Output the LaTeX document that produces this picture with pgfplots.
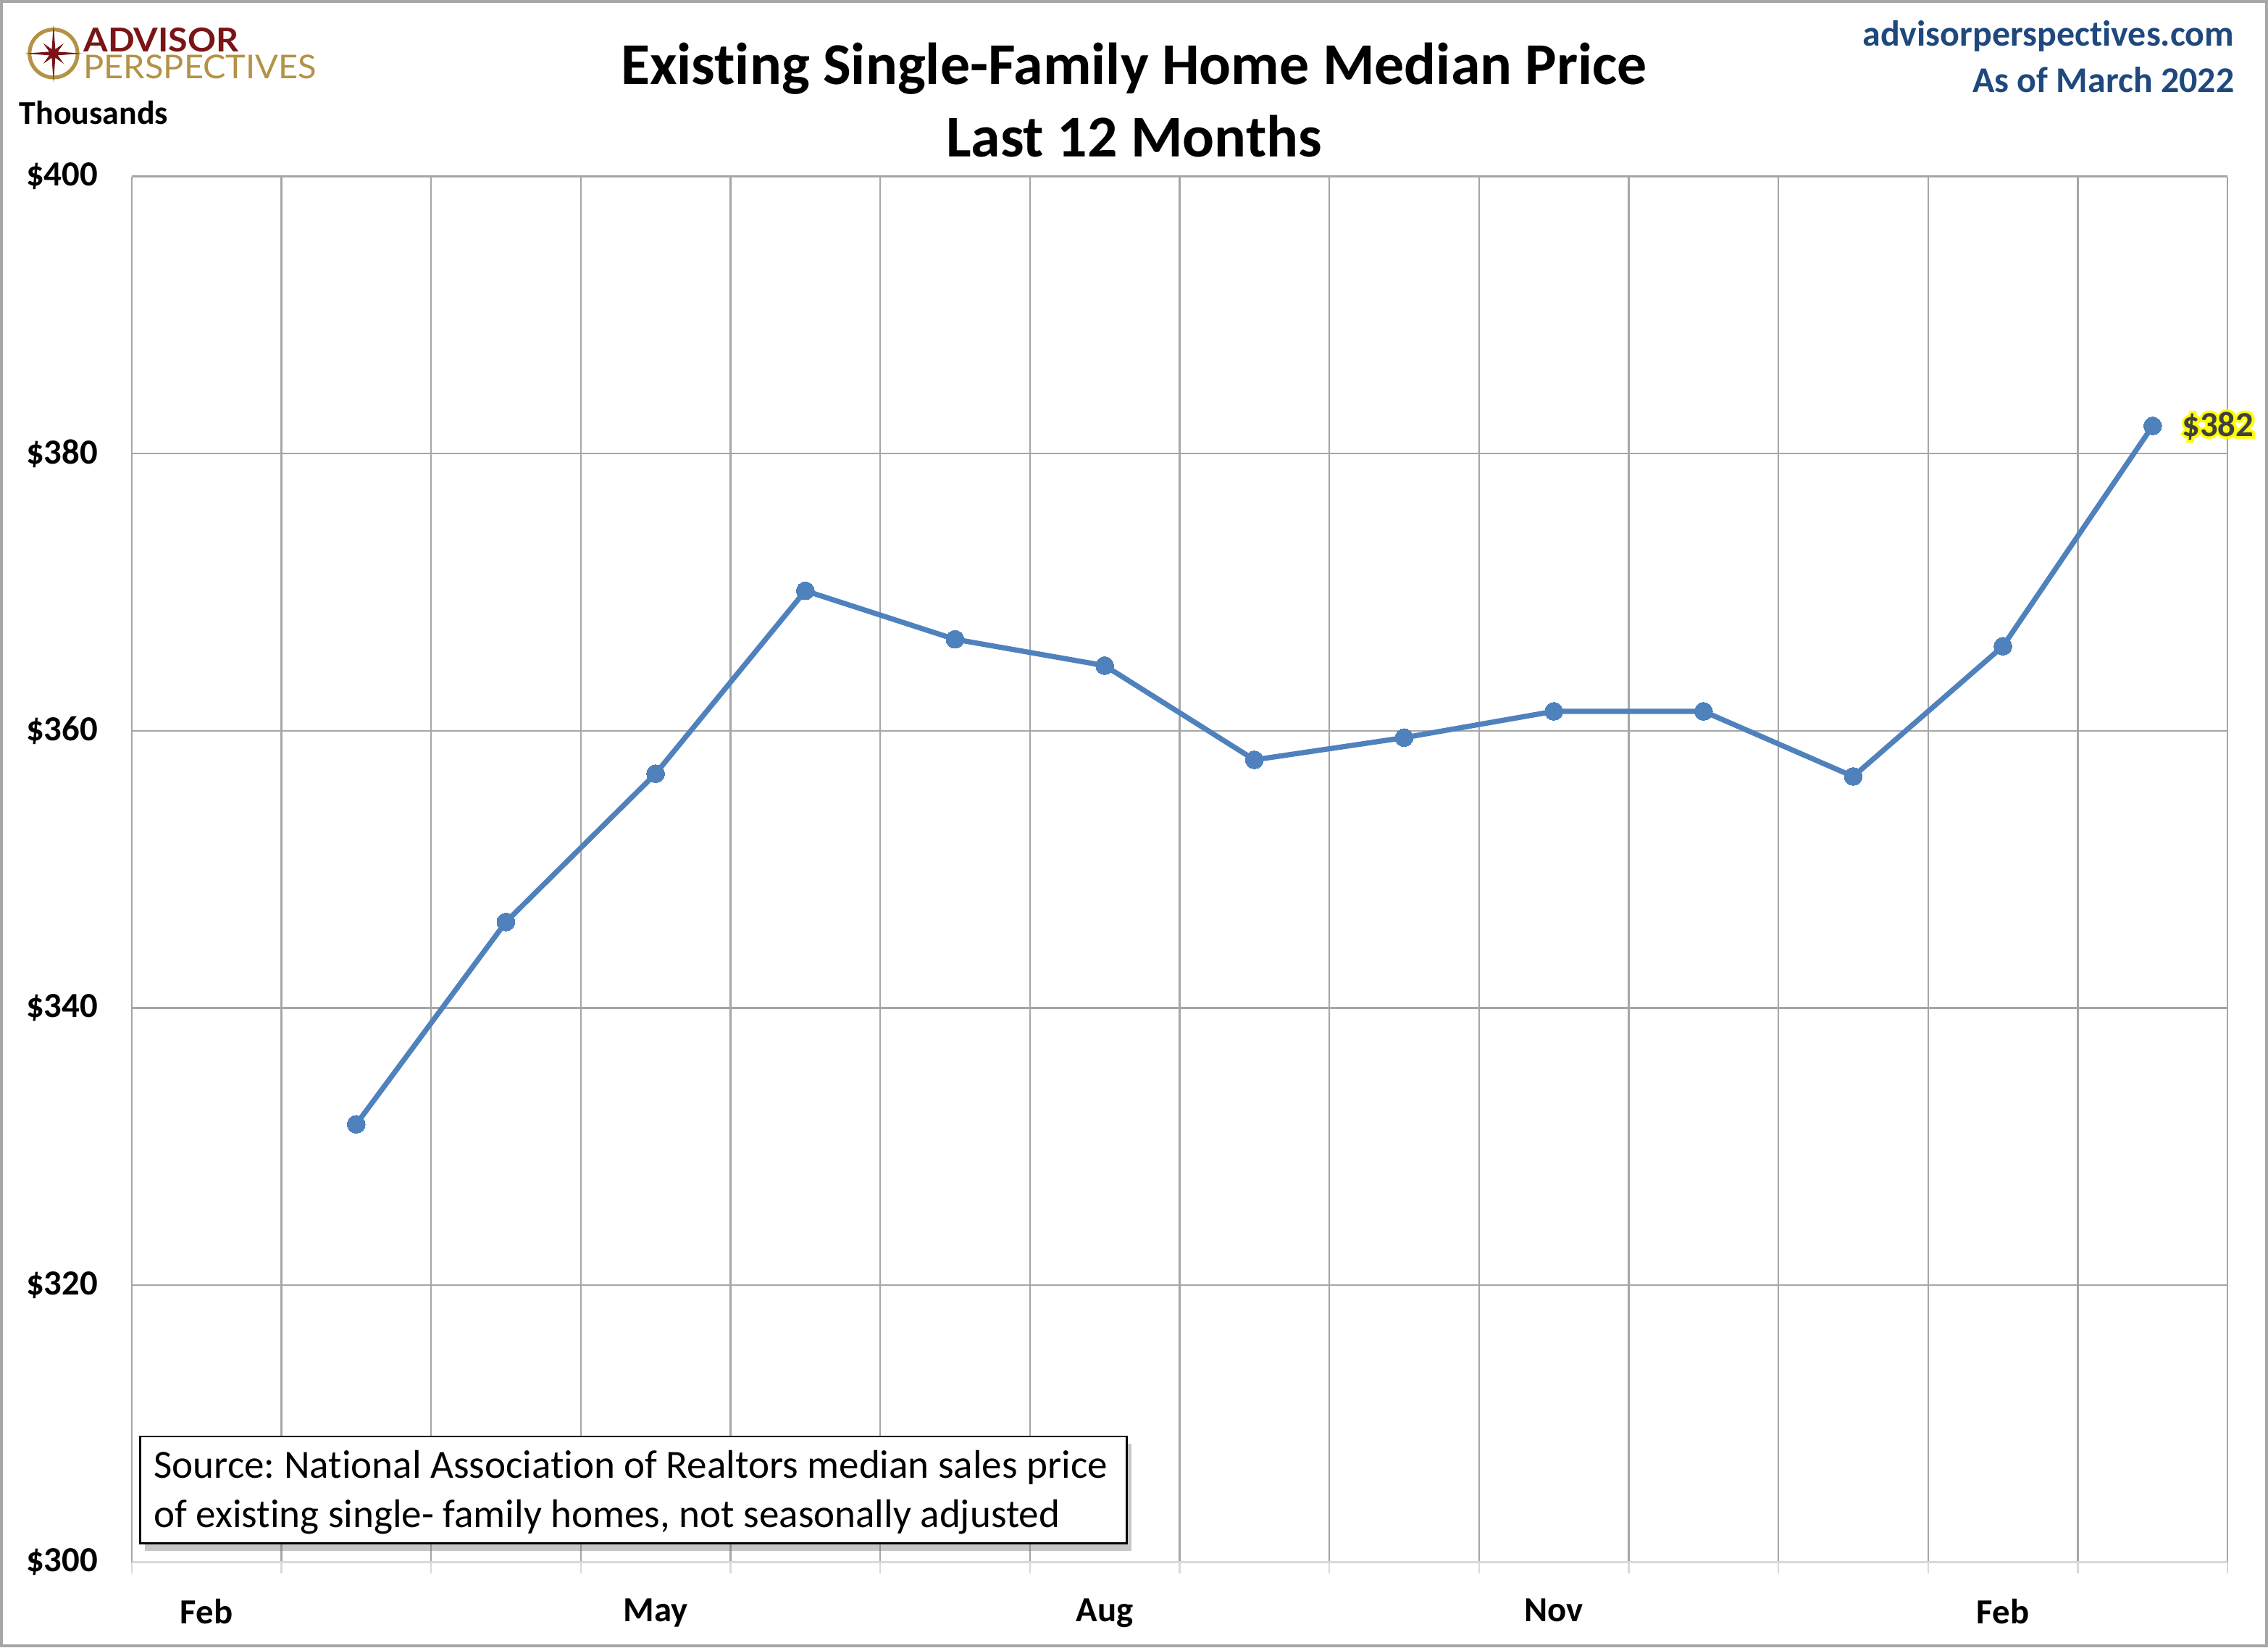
\documentclass[border=0pt]{standalone}
\usepackage{pgfplots}
\pgfplotsset{compat=1.18}
\usepackage{graphicx}
\usepackage{fontspec}
\setmainfont{Carlito}[Ligatures={NoCommon}]
\newfontfamily\logofont{Lato}
\usetikzlibrary{shadows,calc}
\frenchspacing
\definecolor{lineblue}{RGB}{79,129,189}
\definecolor{gridgray}{RGB}{166,166,166}
\definecolor{axisgray}{RGB}{217,217,217}
\definecolor{apblue}{RGB}{31,73,125}
\definecolor{apred}{RGB}{122,20,22}
\definecolor{apgold}{RGB}{180,146,70}
\definecolor{labgray}{RGB}{64,64,64}

\pgfplotstableread{
x y
1 331.6
2 346.2
3 356.9
4 370.1
5 366.6
6 364.7
7 357.9
8 359.5
9 361.4
10 361.4
11 356.7
12 366.1
13 382.0
}\pricedata

\begin{document}
\begin{tikzpicture}
\path[use as bounding box] (0,0) rectangle (784pt,569.5pt);
\fill[white] (0,0) rectangle (784pt,569.5pt);
\begin{axis}[
  at={(45.5pt,29.5pt)}, anchor=south west,
  scale only axis, width=724.5pt, height=479pt,
  xmin=-0.5, xmax=13.5, ymin=300, ymax=400,
  xtick={0,3,6,9,12}, xticklabels={Feb,May,Aug,Nov,Feb},
  minor xtick={-0.5,0.5,...,13.5},
  ytick={300,320,...,400}, yticklabels={\$300,\$320,\$340,\$360,\$380,\$400},
  xminorgrids, ymajorgrids,
  grid style={draw=gridgray, line width=0.6pt},
  minor grid style={draw=gridgray, line width=0.6pt},
  axis line style={draw=none},
  major tick length=0pt, minor tick length=3.75pt,
  tick align=outside, xtick pos=bottom, ytick pos=left,
  minor tick style={draw=axisgray, line width=0.6pt},
  xticklabel style={font=\bfseries\fontsize{12.2}{14}\selectfont, anchor=north, inner sep=0pt, yshift=-12.5pt},
  yticklabel style={font=\bfseries\fontsize{12.2}{14}\selectfont, anchor=east, inner sep=0pt, xshift=-11.5pt},
  clip=false,
]
\addplot[lineblue, line width=1.8pt, mark=*, mark size=3.1pt,
  mark options={fill=lineblue, draw=lineblue, line width=0pt}] table[x=x,y=y] {\pricedata};
\draw[axisgray, line width=0.9pt] (axis cs:-0.5,300) -- (axis cs:13.5,300);
\coordinate (lastpt) at (axis cs:13,382);
\end{axis}

% data label with glow (stroked text underneath)
\node[anchor=west, inner sep=0pt, text=yellow, font=\bfseries\fontsize{12.2}{14}\selectfont]
  at ($(lastpt)+(10pt,0)$) {\special{pdf:literal direct 2 Tr 1.8 w 1 1 0 RG}\$382\special{pdf:literal direct 0 Tr 0 w}};
\node[anchor=west, inner sep=0pt, text=labgray, font=\bfseries\fontsize{12.2}{14}\selectfont]
  at ($(lastpt)+(10pt,0)$) {\$382};

% source box
\draw[black, line width=0.6pt, fill=white,
  drop shadow={shadow xshift=1.5pt, shadow yshift=-2.5pt, opacity=0.4, fill=black!55}]
  (48.5pt,36pt) rectangle (389.5pt,73pt);
\node[anchor=base west, inner sep=0pt, font=\fontsize{13.8}{17}\selectfont] at (53pt,58.5pt)
  {Source: National Association of Realtors median sales price};
\node[anchor=base west, inner sep=0pt, font=\fontsize{13.8}{17}\selectfont] at (53pt,41.5pt)
  {of existing single- family homes, not seasonally adjusted};

% title
\node[anchor=base, inner sep=0pt, font=\bfseries\fontsize{20.5}{24}\selectfont] at (392pt,540.25pt)
  {Existing Single-Family Home Median Price};
\node[anchor=base, inner sep=0pt, font=\bfseries\fontsize{20.5}{24}\selectfont] at (392pt,515.25pt)
  {Last 12 Months};

% top right
\node[anchor=base east, inner sep=0pt, text=apblue, font=\bfseries\fontsize{12.5}{15}\selectfont] at (772.5pt,553.5pt)
  {advisorperspectives.com};
\node[anchor=base east, inner sep=0pt, text=apblue, font=\bfseries\fontsize{12.5}{15}\selectfont] at (772.5pt,537.5pt)
  {As of March 2022};

% Thousands
\node[anchor=base west, inner sep=0pt, font=\bfseries\fontsize{11.5}{14}\selectfont] at (6.5pt,526.5pt) {Thousands};

% logo
\begin{scope}[shift={(18.5pt,551pt)}]
\draw[apgold, line width=1.3pt] (0,0) circle (8.3pt);
\fill[apred] (90:10pt) -- (67.5:1.6pt) -- (45:5pt) -- (22.5:1.6pt) -- (0:10pt) -- (-22.5:1.6pt)
  -- (-45:5pt) -- (-67.5:1.6pt) -- (-90:10pt) -- (-112.5:1.6pt) -- (-135:5pt) -- (-157.5:1.6pt)
  -- (180:10pt) -- (157.5:1.6pt) -- (135:5pt) -- (112.5:1.6pt) -- cycle;
\end{scope}
\node[anchor=base west, inner sep=0pt, text=apred] at (28.75pt,551.5pt)
  {\resizebox{53.5pt}{8.3pt}{\logofont\bfseries ADVISOR}};
\node[anchor=base west, inner sep=0pt, text=apgold] at (28.75pt,542.2pt)
  {\resizebox{80.5pt}{8.2pt}{\logofont PERSPECTIVES}};

% outer border
\draw[gridgray, line width=1pt] (0.5pt,0.5pt) rectangle (783.5pt,569pt);
\end{tikzpicture}
\end{document}
